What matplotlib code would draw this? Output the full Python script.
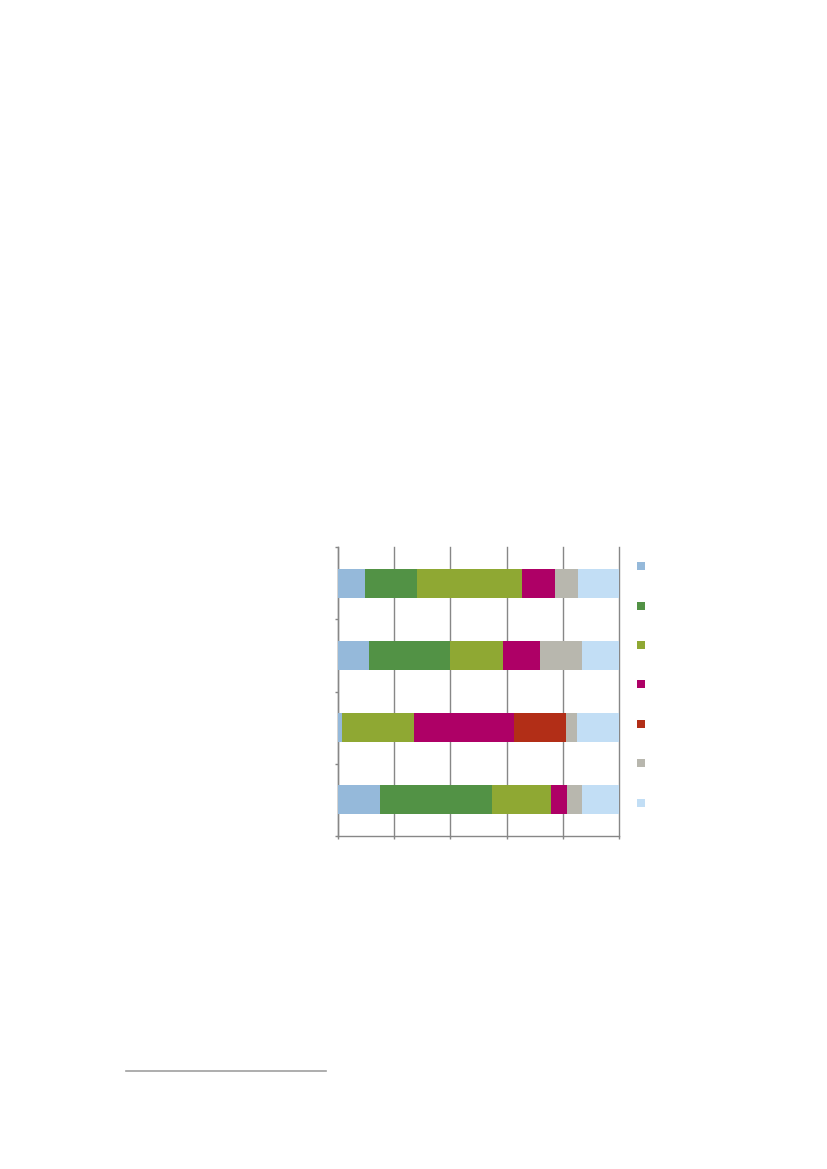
import numpy as np
import matplotlib.pyplot as plt
from matplotlib.patches import Patch
from matplotlib.lines import Line2D

# categories from bottom to top (no labels shown in the source)
categories = ['', '', '', '']
series_colors = ['#95B9DA', '#529245', '#8FA833', '#AE0066', '#B22E17', '#B8B7AE', '#C2DEF5']

# percentage shares per series, one value per category (bottom -> top)
s1 = [14.8, 1.4, 10.9, 9.5]
s2 = [39.9, 0.0, 29.1, 18.5]
s3 = [21.2, 25.5, 18.6, 37.4]
s4 = [5.5, 35.8, 13.3, 11.9]
s5 = [0.0, 18.6, 0.0, 0.0]
s6 = [5.3, 3.9, 14.8, 8.1]
s7 = [13.3, 14.7, 13.3, 14.7]
series = [s1, s2, s3, s4, s5, s6, s7]

x_ticks = [0, 20, 40, 60, 80, 100]

fig = plt.figure(figsize=(8.27, 11.69), dpi=100)
ax = fig.add_axes([338/827, 1 - 836/1169, 281/827, 289/1169])

ypos = np.arange(len(categories))
left = np.zeros(len(categories))
for vals, col in zip(series, series_colors):
    vals = np.array(vals)
    ax.barh(ypos, vals, left=left, height=0.4, color=col, edgecolor='none', zorder=3)
    left = left + vals

grid_col = '#878787'
ax.set_xlim(0, 100)
ax.set_ylim(-0.5, len(categories) - 0.5)
ax.set_xticks(x_ticks)
ax.set_xticklabels([''] * len(x_ticks))
ax.set_yticks(np.arange(len(categories) + 1) - 0.5)
ax.set_yticklabels([''] * (len(categories) + 1))
ax.xaxis.grid(True, color=grid_col, linewidth=1.0, zorder=0)
for gl in ax.get_xgridlines():
    gl.set_clip_on(False)
ax.tick_params(axis='both', direction='out', length=2.5, width=1.0, color=grid_col)
for side in ['top', 'right']:
    ax.spines[side].set_visible(False)
for side in ['left', 'bottom']:
    ax.spines[side].set_color(grid_col)
    ax.spines[side].set_linewidth(1.0)

handles = [Patch(facecolor=c, edgecolor='none') for c in series_colors]
fig.legend(handles, [' '] * len(handles), loc='upper left',
           bbox_to_anchor=(637/827, 1 - 562/1169), frameon=False,
           fontsize=8, handlelength=0.72, handleheight=0.72,
           labelspacing=2.65, borderpad=0, borderaxespad=0, handletextpad=0.3)

# footnote rule
fig.add_artist(Line2D([126/827, 326/827], [1 - 1071/1169, 1 - 1071/1169],
                      color='#A0A0A0', linewidth=1.2))

fig.savefig('out.png', dpi=100)
